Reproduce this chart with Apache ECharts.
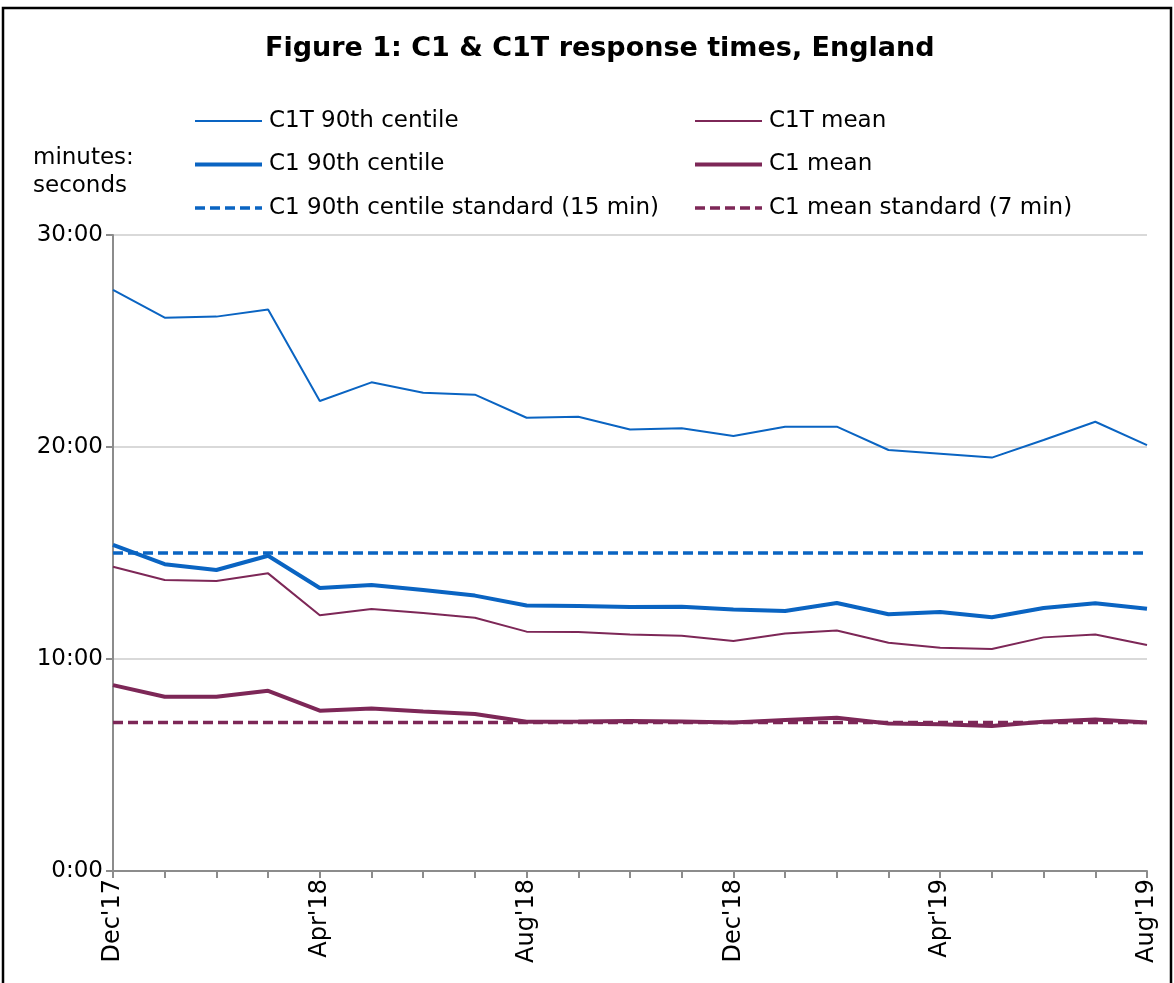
<!DOCTYPE html>
<html>
<head>
<meta charset="utf-8">
<title>Figure 1: C1 &amp; C1T response times, England</title>
<script src="https://cdn.jsdelivr.net/npm/echarts@6/dist/echarts.min.js"></script>
<style>
  html, body { margin: 0; padding: 0; background: #ffffff; }
  #chart { width: 1174px; height: 983px; }
</style>
</head>
<body>
<div id="chart"></div>
<script>
// Monthly periods, Dec 2017 to Aug 2019
const months = [
  "Dec'17", "Jan'18", "Feb'18", "Mar'18", "Apr'18", "May'18", "Jun'18", "Jul'18",
  "Aug'18", "Sep'18", "Oct'18", "Nov'18", "Dec'18", "Jan'19", "Feb'19", "Mar'19",
  "Apr'19", "May'19", "Jun'19", "Jul'19", "Aug'19"
];

// Response times in minutes (decimal)
const c1t90 = [27.41, 26.10, 26.15, 26.49, 22.17, 23.05, 22.56, 22.47, 21.38, 21.43, 20.83,
               20.88, 20.52, 20.96, 20.96, 19.86, 19.68, 19.50, 20.33, 21.19, 20.09];
const c1tMean = [14.35, 13.73, 13.68, 14.04, 12.06, 12.36, 12.17, 11.95, 11.29, 11.27, 11.16,
                 11.10, 10.85, 11.20, 11.34, 10.77, 10.53, 10.47, 11.02, 11.16, 10.66];
const c190 = [15.38, 14.47, 14.20, 14.87, 13.35, 13.49, 13.25, 12.99, 12.52, 12.50, 12.45,
              12.47, 12.34, 12.26, 12.64, 12.11, 12.22, 11.97, 12.41, 12.63, 12.37];
const c1Mean = [8.77, 8.22, 8.22, 8.50, 7.56, 7.67, 7.52, 7.41, 7.04, 7.05, 7.07,
                7.05, 7.00, 7.12, 7.23, 6.96, 6.92, 6.84, 7.04, 7.15, 7.00];

// Performance standards (minutes)
const c190Standard = 15;
const c1MeanStandard = 7;

// Axis ticks (minutes)
const yTicks = { min: 0, max: 30, interval: 10 };

const BLUE = '#0A64C2';
const PLUM = '#7D2757';
const FONT = '"DejaVu Sans", "Liberation Sans", Arial, sans-serif';

const THIN = 2;
const THICK = 4;
const DASHED = 3.5;
const DASH = [10, 5];

// minutes (decimal) -> "m:ss"
function mmss(v) {
  const total = Math.round(v * 60);
  const m = Math.floor(total / 60);
  const s = total % 60;
  return m + ':' + (s < 10 ? '0' : '') + s;
}

const chart = echarts.init(document.getElementById('chart'), null, { renderer: 'canvas' });

const legendCommon = {
  orient: 'vertical',
  top: 108,
  padding: 0,
  itemWidth: 67,
  itemHeight: 14,
  itemGap: 17.5,
  // line-only legend keys (no point marker)
  itemStyle: { color: 'rgba(0,0,0,0)', borderWidth: 0, opacity: 0 },
  textStyle: { fontFamily: FONT, fontSize: 23, color: '#000', lineHeight: 26, padding: [0, 0, 0, 2] }
};

function legendItem(name, width, type) {
  return { name: name, lineStyle: { width: width, type: type || 'solid' } };
}

chart.setOption({
  backgroundColor: '#ffffff',
  animation: false,
  title: {
    text: 'Figure 1: C1 & C1T response times, England',
    left: 260,
    top: 30,
    textStyle: { fontFamily: FONT, fontSize: 27, fontWeight: 'bold', color: '#000' }
  },
  graphic: [
    {
      type: 'rect',
      shape: { x: 3, y: 8, width: 1168, height: 1000 },
      style: { fill: 'none', stroke: '#000', lineWidth: 2.5 },
      silent: true
    },
    {
      type: 'text',
      left: 33,
      top: 144,
      style: {
        text: 'minutes:\nseconds',
        fontFamily: FONT,
        fontSize: 23,
        lineHeight: 28,
        fill: '#000'
      }
    }
  ],
  legend: [
    Object.assign({}, legendCommon, {
      left: 193,
      data: [
        legendItem('C1T 90th centile', THIN),
        legendItem('C1 90th centile', THICK),
        legendItem('C1 90th centile standard (15 min)', DASHED, DASH)
      ]
    }),
    Object.assign({}, legendCommon, {
      left: 693,
      data: [
        legendItem('C1T mean', THIN),
        legendItem('C1 mean', THICK),
        legendItem('C1 mean standard (7 min)', DASHED, DASH)
      ]
    })
  ],
  grid: { left: 113, right: 27, top: 235, bottom: 112, containLabel: false },
  xAxis: {
    type: 'category',
    data: months,
    boundaryGap: false,
    axisLine: { show: true, lineStyle: { color: '#8c8c8c', width: 2 } },
    axisTick: { show: true, interval: 0, length: 7, lineStyle: { color: '#8c8c8c', width: 2 } },
    axisLabel: {
      interval: 3,
      rotate: 90,
      margin: 8,
      fontFamily: FONT,
      fontSize: 24,
      color: '#000'
    },
    splitLine: { show: false }
  },
  yAxis: {
    type: 'value',
    min: yTicks.min,
    max: yTicks.max,
    interval: yTicks.interval,
    axisLine: { show: true, lineStyle: { color: '#8c8c8c', width: 2 } },
    axisTick: { show: true, length: 7, lineStyle: { color: '#8c8c8c', width: 2 } },
    axisLabel: {
      formatter: mmss,
      margin: 10,
      fontFamily: FONT,
      fontSize: 23,
      color: '#000'
    },
    splitLine: { show: true, lineStyle: { color: '#d9d9d9', width: 2 } }
  },
  series: [
    {
      name: 'C1T 90th centile',
      type: 'line',
      data: c1t90,
      symbol: 'none',
      lineStyle: { color: BLUE, width: THIN },
      itemStyle: { color: BLUE }
    },
    {
      name: 'C1T mean',
      type: 'line',
      data: c1tMean,
      symbol: 'none',
      lineStyle: { color: PLUM, width: THIN },
      itemStyle: { color: PLUM }
    },
    {
      name: 'C1 90th centile standard (15 min)',
      type: 'line',
      data: months.map(() => c190Standard),
      symbol: 'none',
      lineStyle: { color: BLUE, width: DASHED, type: DASH },
      itemStyle: { color: BLUE }
    },
    {
      name: 'C1 mean standard (7 min)',
      type: 'line',
      data: months.map(() => c1MeanStandard),
      symbol: 'none',
      lineStyle: { color: PLUM, width: DASHED, type: DASH },
      itemStyle: { color: PLUM }
    },
    {
      name: 'C1 90th centile',
      type: 'line',
      data: c190,
      symbol: 'none',
      lineStyle: { color: BLUE, width: THICK },
      itemStyle: { color: BLUE }
    },
    {
      name: 'C1 mean',
      type: 'line',
      data: c1Mean,
      symbol: 'none',
      lineStyle: { color: PLUM, width: THICK },
      itemStyle: { color: PLUM }
    }
  ]
});
</script>
</body>
</html>
